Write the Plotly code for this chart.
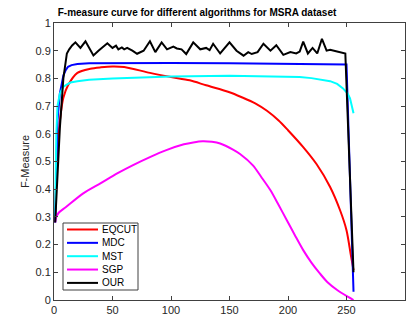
import plotly.graph_objects as go

series_names = ["EQCUT", "MDC", "MST", "SGP", "OUR"]
series_colors = ["#ff0000", "#0000ff", "#00ffff", "#ff00ff", "#000000"]

eqcut_x = [1, 2, 4, 6, 8, 12, 20, 31, 40, 50, 60, 82, 100, 116, 130, 150, 160, 172, 182, 192, 200, 213, 224.5, 236, 244.5, 250, 253.6, 256]
eqcut_y = [0.30, 0.45, 0.60, 0.68, 0.73, 0.775, 0.82, 0.835, 0.84, 0.843, 0.841, 0.82, 0.805, 0.793, 0.775, 0.75, 0.733, 0.71, 0.683, 0.648, 0.613, 0.552, 0.49, 0.408, 0.324, 0.252, 0.165, 0.108]

mdc_x = [1, 2, 3, 5, 8, 10, 12, 15, 20, 30, 50, 100, 150, 200, 250, 256]
mdc_y = [0.28, 0.50, 0.65, 0.745, 0.81, 0.83, 0.842, 0.848, 0.852, 0.855, 0.856, 0.856, 0.855, 0.853, 0.85, 0.03]

mst_x = [1, 2, 3, 5, 8, 14, 20, 30, 50, 100, 150, 200, 210, 220, 230, 236, 242, 247, 251, 253, 256]
mst_y = [0.30, 0.60, 0.70, 0.745, 0.77, 0.785, 0.79, 0.795, 0.80, 0.807, 0.81, 0.808, 0.805, 0.801, 0.795, 0.79, 0.78, 0.764, 0.745, 0.728, 0.674]

sgp_x = [1, 2, 4, 10, 25, 40, 54, 68, 82, 96, 111, 119, 127, 135, 142, 153, 159, 170, 177, 185, 192, 199, 206, 213, 220, 227, 234, 242, 251, 256]
sgp_y = [0.28, 0.30, 0.315, 0.335, 0.385, 0.422, 0.457, 0.488, 0.516, 0.541, 0.562, 0.569, 0.573, 0.571, 0.565, 0.543, 0.527, 0.486, 0.445, 0.396, 0.343, 0.288, 0.233, 0.18, 0.135, 0.097, 0.063, 0.036, 0.012, 0.0]

our_x = [1, 3, 5, 8, 11, 13, 15.5, 18.3, 22.6, 26.9, 30, 33.7, 38, 42, 45.6, 50, 53, 55, 58, 60, 62.5, 67, 71, 76.6, 82, 86.6, 92, 96.6, 102, 105, 109, 113, 119, 125, 130, 133, 136, 142, 150, 156, 162, 166, 169, 174, 179, 185, 190, 196, 202, 207, 210, 213, 217, 221, 225, 229, 233, 236, 239, 243, 247, 249, 256]
our_y = [0.28, 0.45, 0.62, 0.80, 0.89, 0.905, 0.919, 0.93, 0.91, 0.934, 0.91, 0.883, 0.90, 0.915, 0.927, 0.91, 0.918, 0.905, 0.912, 0.905, 0.91, 0.90, 0.889, 0.90, 0.934, 0.895, 0.93, 0.905, 0.915, 0.908, 0.905, 0.888, 0.93, 0.905, 0.91, 0.902, 0.925, 0.89, 0.93, 0.90, 0.882, 0.895, 0.888, 0.895, 0.925, 0.90, 0.92, 0.885, 0.895, 0.89, 0.897, 0.933, 0.89, 0.91, 0.89, 0.943, 0.90, 0.903, 0.90, 0.898, 0.893, 0.89, 0.10]

xs = [eqcut_x, mdc_x, mst_x, sgp_x, our_x]
ys = [eqcut_y, mdc_y, mst_y, sgp_y, our_y]
shapes_ = ["spline", "linear", "linear", "spline", "linear"]

x_ticks = [0, 50, 100, 150, 200, 250, 300]
y_ticks = [0, 0.1, 0.2, 0.3, 0.4, 0.5, 0.6, 0.7, 0.8, 0.9, 1]

FONT = "Liberation Sans, Arial, sans-serif"
AX = "#404040"

fig = go.Figure()
for name, color, x, y, shp in zip(series_names, series_colors, xs, ys, shapes_):
    line = dict(color=color, width=2, shape=shp)
    if shp == "spline":
        line["smoothing"] = 0.8
    fig.add_trace(go.Scatter(x=x, y=y, mode="lines", name=name, line=line, showlegend=False))

# manual MATLAB-style legend (paper coordinates)
def px2paper_x(px):
    return (px - 54) / 351.0

def px2paper_y(py):
    return (300 - py) / 277.0

fig.add_shape(type="rect", xref="paper", yref="paper",
              x0=px2paper_x(63), x1=px2paper_x(138), y0=px2paper_y(290), y1=px2paper_y(223),
              line=dict(color=AX, width=1), fillcolor="white", layer="above")
for i, (name, color) in enumerate(zip(series_names, series_colors)):
    py = 229.5 + i * 13.35
    fig.add_shape(type="line", xref="paper", yref="paper",
                  x0=px2paper_x(67), x1=px2paper_x(98), y0=px2paper_y(py), y1=px2paper_y(py),
                  line=dict(color=color, width=2), layer="above")
    fig.add_annotation(text=name, xref="paper", yref="paper", x=px2paper_x(100), y=px2paper_y(py),
                       xanchor="left", yanchor="middle", showarrow=False,
                       font=dict(family=FONT, size=10, color="#000000"))

axis_common = dict(showgrid=False, zeroline=False, showline=True, linecolor=AX, linewidth=1,
                   mirror="ticks", ticks="inside", ticklen=4, tickcolor=AX, tickwidth=1,
                   tickfont=dict(family=FONT, size=11, color="#262626"))

fig.update_xaxes(range=[0, 300], tickvals=x_ticks, ticktext=[str(v) for v in x_ticks], **axis_common)
fig.update_yaxes(range=[0, 1], tickvals=y_ticks, ticktext=[("%g" % v) for v in y_ticks],
                 title=dict(text="F-Measure", font=dict(family=FONT, size=11, color="#262626"), standoff=3),
                 **axis_common)

fig.update_layout(
    width=412, height=323,
    margin=dict(l=54, r=7, t=23, b=23),
    paper_bgcolor="white", plot_bgcolor="white",
    title=dict(text="<b>F-measure curve for different algorithms for MSRA dataset</b>",
               x=197 / 412, xanchor="center", y=1 - 12 / 323, yanchor="middle",
               font=dict(family=FONT, size=10, color="#000000")),
)

fig.write_html("out.html")
